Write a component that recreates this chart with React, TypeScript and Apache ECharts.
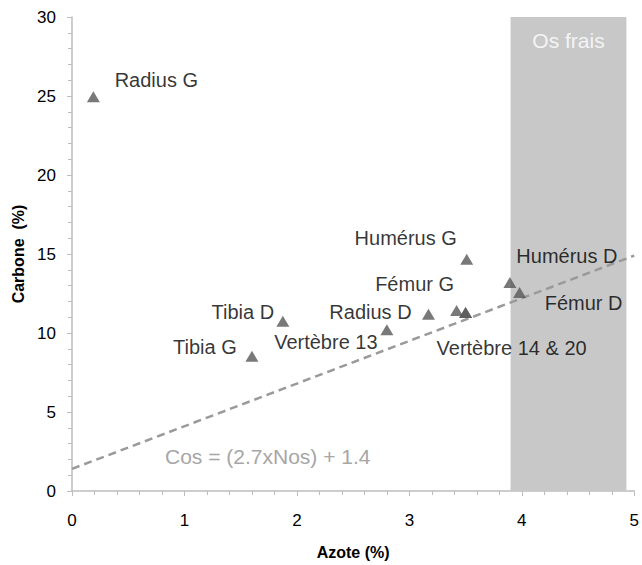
import React, { useEffect, useRef } from "react";
import * as echarts from "echarts";

// Data
const boneNames = [
  "Radius G",
  "Tibia G",
  "Tibia D",
  "Vertèbre 13",
  "Radius D",
  "Fémur G",
  "Vertèbre 14 & 20",
  "Vertèbre 20",
  "Humérus G",
  "Humérus D",
  "Fémur D",
];
const azoteValues = [0.19, 1.6, 1.875, 2.8, 3.17, 3.42, 3.5, 3.5, 3.51, 3.894, 3.98];
const carboneValues = [24.95, 8.53, 10.74, 10.2, 11.18, 11.43, 11.3, 11.3, 14.66, 13.2, 12.57];
const showLabel = [true, true, true, true, true, true, true, false, true, true, true];

const trendSlope = 2.7;
const trendIntercept = 1.4;
const trendX = [0, 5];

const freshBoneRange = [3.9, 4.93];
const freshBoneLabel = "Os frais";
const equationText = "Cos = (2.7xNos) + 1.4";

const xTicks = [0, 1, 2, 3, 4, 5];
const yTicks = [0, 5, 10, 15, 20, 25, 30];

// Layout: label offsets (pixels, relative to the marker centre)
const labelOffsets: [number, number][] = [
  [63, -17],
  [-47, -9],
  [-40, -9],
  [-61, 12],
  [-58, -2],
  [-42, -26],
  [46, 36],
  [0, 0],
  [-61, -21],
  [57, -26],
  [64, 11],
];

const FONT = "'Liberation Sans', Arial, Helvetica, sans-serif";

export default function App() {
  const ref = useRef<HTMLDivElement>(null);

  useEffect(() => {
    if (!ref.current) return;
    const chart = echarts.init(ref.current, undefined, { renderer: "svg" });

    const points = boneNames.map((name, i) => ({
      name,
      value: [azoteValues[i], carboneValues[i]],
      label: {
        show: showLabel[i],
        position: "inside",
        offset: labelOffsets[i],
        align: "center",
        verticalAlign: "middle",
        formatter: name,
        color: "#000",
        fontSize: 20,
        fontFamily: FONT,
      },
    }));

    const trendData = trendX.map((x) => [x, trendSlope * x + trendIntercept]);

    chart.setOption({
      animation: false,
      backgroundColor: "#ffffff",
      textStyle: { fontFamily: FONT },
      grid: { left: 72, right: 4, top: 17, bottom: 73, containLabel: false },
      xAxis: {
        type: "value",
        min: xTicks[0],
        max: xTicks[xTicks.length - 1],
        interval: 1,
        name: "Azote (%)",
        nameLocation: "middle",
        nameGap: 53,
        nameTextStyle: { fontSize: 16, fontWeight: "bold", color: "#000", fontFamily: FONT },
        axisLine: { lineStyle: { color: "#bdbdbd", width: 1.5 } },
        axisTick: { show: true, length: 5, inside: false, lineStyle: { color: "#bdbdbd" } },
        minorTick: { show: true, splitNumber: 5, length: 4, lineStyle: { color: "#bdbdbd" } },
        splitLine: { show: false },
        axisLabel: { margin: 21, fontSize: 17, color: "#000", fontFamily: FONT },
      },
      yAxis: {
        type: "value",
        min: yTicks[0],
        max: yTicks[yTicks.length - 1],
        interval: 5,
        name: "Carbone  (%)",
        nameLocation: "middle",
        nameRotate: 90,
        nameGap: 46,
        nameTextStyle: { fontSize: 16, fontWeight: "bold", color: "#000", fontFamily: FONT },
        axisLine: { show: true, lineStyle: { color: "#bdbdbd", width: 1.5 } },
        axisTick: { show: true, length: 5, inside: false, lineStyle: { color: "#bdbdbd" } },
        minorTick: { show: true, splitNumber: 5, length: 4, lineStyle: { color: "#bdbdbd" } },
        splitLine: { show: false },
        axisLabel: { margin: 16, fontSize: 17, color: "#000", fontFamily: FONT },
      },
      series: [
        {
          type: "line",
          z: 1,
          data: [],
          silent: true,
          markArea: {
            silent: true,
            itemStyle: { color: "#c8c8c8" },
            label: {
              show: true,
              position: "insideTop",
              distance: 13,
              color: "#f4f4f4",
              fontSize: 21,
              fontFamily: FONT,
            },
            data: [
              [
                { name: freshBoneLabel, coord: [freshBoneRange[0], 0] },
                { coord: [freshBoneRange[1], 30.25] },
              ],
            ],
          },
        },
        {
          type: "line",
          z: 2,
          data: trendData,
          symbol: "none",
          silent: true,
          lineStyle: { color: "#9a9a9a", width: 2.5, type: [8, 5] },
        },
        {
          type: "scatter",
          z: 3,
          data: points,
          symbol: "triangle",
          symbolSize: [13, 11],
          itemStyle: { color: "#575757" },
        },
      ],
      graphic: [
        {
          type: "text",
          left: 165,
          top: 446,
          style: {
            text: equationText,
            fill: "#a6a6a6",
            fontSize: 21,
            fontFamily: FONT,
          },
        },
      ],
    });

    return () => chart.dispose();
  }, []);

  return (
    <div
      ref={ref}
      style={{ position: "fixed", left: 0, top: 0, width: 642, height: 565 }}
    />
  );
}
